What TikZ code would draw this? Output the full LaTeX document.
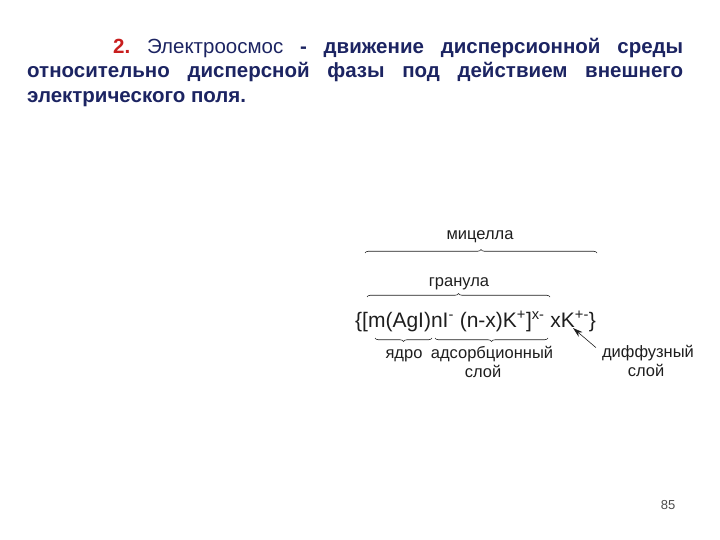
\documentclass[tikz,border=0pt]{standalone}
\usepackage{fontspec}
\setmainfont{Liberation Sans}
\usetikzlibrary{decorations.pathreplacing,arrows.meta}

\definecolor{headblue}{RGB}{28,36,98}
\definecolor{headred}{RGB}{200,30,30}
\definecolor{ink}{RGB}{30,30,30}

\tikzset{
    lbl/.style={text=ink, font=\fontsize{16.5}{19}\selectfont, inner sep=0pt, align=center},
    brc/.style={draw=ink, semithick, decorate, decoration={brace, amplitude=3.5pt}}
}

\begin{document}
\frenchspacing
\begin{tikzpicture}[x=1pt, y=-1pt]
    \useasboundingbox (0, 0) rectangle (720, 540);

    % heading
    \node[anchor=north west, inner sep=0pt, text width=656pt, align=justify,
          font=\fontsize{20.5}{24.5}\selectfont] (head) at (27, 38)
        {\hspace*{86pt}{\bfseries\color{headred}2.} {\color{headblue}Электроосмос} {\bfseries\color{headblue} - движение дисперсионной среды относительно дисперсной фазы под действием внешнего электрического поля.}};

    % formula
    \node[anchor=base west, text=ink, inner sep=0pt, font=\fontsize{21}{23}\selectfont] (form) at (355, 327)
        {\{[m(AgI)nI\textsuperscript{-} (n-x)K\textsuperscript{+}]\textsuperscript{x-} xK\textsuperscript{+-}\}};

    % braces
    \draw[brc] (365, 253) -- (597, 253);
    \draw[brc] (367, 297) -- (550, 297);
    \draw[brc, decoration={mirror}] (375, 338) -- (432, 338);
    \draw[brc, decoration={mirror}] (435, 338) -- (548, 338);

    \node[lbl, anchor=base] (mic) at (480, 240) {мицелла};
    \node[lbl, anchor=base] (gran) at (459, 286) {гранула};
    \node[lbl, anchor=base] (core) at (404, 358) {ядро};
    \node[lbl, anchor=base] (ads) at (492, 358) {адсорбционный};
    \node[lbl, anchor=base] (ads2) at (483, 377) {слой};
    \node[lbl, anchor=base] (diff) at (648, 357) {диффузный};
    \node[lbl, anchor=base] (diff2) at (646, 376) {слой};

    \coordinate (kpos) at (573, 328);
    \draw[ink, semithick, -{Stealth[length=10pt, width=6pt]}] (diff.north west) ++(-6, 3) -- (kpos);

    \node[text=ink!80, font=\fontsize{13}{15}\selectfont] (page) at (668, 505) {85};
\end{tikzpicture}
\end{document}
